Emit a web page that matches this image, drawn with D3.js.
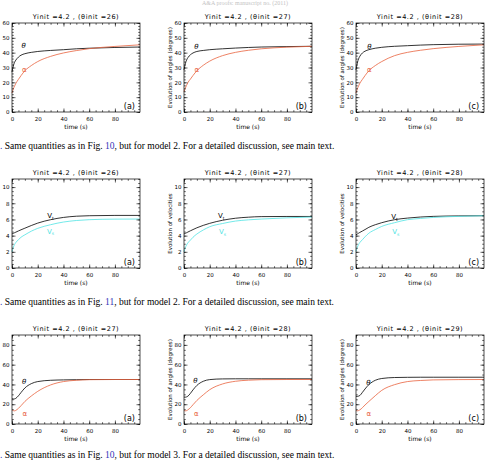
<!DOCTYPE html>
<html>
<head>
<meta charset="utf-8">
<script src="https://cdn.jsdelivr.net/npm/d3@7"></script>
<style>
  body { margin: 0; background: #fff; }
  svg { display: block; }
</style>
</head>
<body>
<div id="chart"></div>
<script>
// ---- data ----
const times = [0, 1, 2, 3, 5, 7, 10, 15, 20, 30, 40, 50, 60, 80, 99.5];
const xTicks = [0, 20, 40, 60, 80];

// row 1 : angles, model 2
const theta2a = [27, 31, 33.5, 35, 37, 38.3, 39.3, 40.2, 40.8, 41.5, 42, 42.6, 43, 43.5, 43.8];
const alpha2a = [12.8, 15.5, 17.5, 19.3, 22, 24.5, 27.8, 31.3, 34, 37.5, 39.8, 41.4, 42.7, 44.2, 45.3];
const theta2b = [28.4, 32.5, 35, 36.6, 38.6, 39.8, 40.8, 41.5, 42, 42.6, 43.1, 43.5, 43.8, 44.1, 44.3];
const alpha2b = [13.6, 16, 18, 19.8, 22.2, 24.6, 27.8, 31.5, 34.3, 38, 40.2, 41.6, 42.6, 43.7, 44.3];
const theta2c = [28.4, 33, 35.8, 37.6, 39.8, 41, 42, 43, 43.6, 44.3, 44.7, 45.1, 45.4, 45.7, 45.8];
const alpha2c = [12.8, 15.5, 17.6, 19.4, 22, 24.5, 27.8, 31.3, 34, 38, 40.2, 41.6, 42.7, 44.2, 45.3];

// row 2 : velocities, model 2
const vBlack2a = [4.2, 4.28, 4.36, 4.43, 4.58, 4.72, 4.92, 5.25, 5.55, 5.97, 6.25, 6.4, 6.46, 6.5, 6.5];
const vCyan2a  = [2.0, 2.55, 2.9, 3.15, 3.5, 3.8, 4.1, 4.55, 4.9, 5.35, 5.68, 5.87, 5.97, 6.04, 6.05];
const vBlack2b = [4.2, 4.28, 4.36, 4.44, 4.6, 4.75, 4.97, 5.27, 5.52, 5.9, 6.15, 6.28, 6.35, 6.37, 6.37];
const vCyan2b  = [2.0, 2.5, 2.85, 3.1, 3.45, 3.8, 4.2, 4.7, 5.1, 5.5, 5.8, 5.95, 6.05, 6.2, 6.3];
const vBlack2c = [4.1, 4.2, 4.3, 4.4, 4.57, 4.75, 5.03, 5.35, 5.6, 5.97, 6.17, 6.3, 6.38, 6.44, 6.46];
const vCyan2c  = [2.05, 2.55, 2.9, 3.15, 3.5, 3.85, 4.3, 4.75, 5.14, 5.6, 5.97, 6.12, 6.25, 6.38, 6.46];

// row 3 : angles, model 3
const theta3a = [25.5, 25.3, 25.4, 26, 28.5, 31.8, 36.4, 40.8, 42.9, 44.2, 44.6, 44.8, 45, 45, 45];
const alpha3a = [14.3, 13.5, 13.3, 13.8, 15.8, 18.5, 22.8, 28.3, 33, 39.5, 42.9, 44.2, 44.8, 45, 45];
const theta3b = [27.2, 27.1, 27.4, 28.1, 31, 34.5, 39, 43.2, 44.9, 45.6, 45.7, 45.7, 45.7, 45.7, 45.7];
const alpha3b = [13.6, 13.3, 13.5, 14.3, 16.5, 19.5, 23.8, 29.5, 34.7, 40.5, 43.2, 44.3, 44.8, 45, 45];
const theta3c = [28, 27.9, 28.2, 28.8, 32, 35.4, 39.8, 44.2, 46, 47, 47.2, 47.3, 47.3, 47.3, 47.3];
const alpha3c = [13.6, 13.3, 13.6, 14.3, 16.5, 19.2, 22.8, 28.6, 34, 39.8, 42.9, 44, 44.6, 44.9, 45];

const thetaInit = [[26, 27, 28], [26, 27, 28], [27, 28, 29]];
const yMax = [60, 11, 90];
const yTicks = [[0, 10, 20, 30, 40, 50, 60], [0, 2, 4, 6, 8, 10], [0, 20, 40, 60, 80]];
const yMinor = [2, 0.5, 5];
const yTitles = ["Evolution of angles (degrees)", "Evolution of velocities", "Evolution of angles (degrees)"];
const panelTags = ["(a)", "(b)", "(c)"];
const captions = [
  ["Same quantities as in Fig. ", "10", ", but for model 2. For a detailed discussion, see main text."],
  ["Same quantities as in Fig. ", "11", ", but for model 2. For a detailed discussion, see main text."],
  ["Same quantities as in Fig. ", "10", ", but for model 3. For a detailed discussion, see main text."]
];

// label positions (time, value) for the curve names
const angleLabels2 = [[[9, 44.7], [9.5, 28]], [[9.7, 44], [10, 28]], [[10.4, 44], [10.4, 28]]];
const velLabels2 = [[[30, 6.4], [30, 4.5]], [[29, 6.4], [30, 4.4]], [[30, 6.3], [31, 4.4]]];
const angleLabels3 = [[[9.4, 42], [9.9, 10]], [[8.8, 43.2], [9.6, 9.9]], [[9.6, 41.5], [9.9, 9.9]]];

const RED = "#e8623e", CYAN = "#4fe3e3";

const rows = [
  { kind: "angle", series: [[theta2a, alpha2a], [theta2b, alpha2b], [theta2c, alpha2c]], labels: angleLabels2 },
  { kind: "vel", series: [[vBlack2a, vCyan2a], [vBlack2b, vCyan2b], [vBlack2c, vCyan2c]], labels: velLabels2 },
  { kind: "angle", series: [[theta3a, alpha3a], [theta3b, alpha3b], [theta3c, alpha3c]], labels: angleLabels3 }
];

// ---- layout ----
const width = 490, height = 460;
const colLeft = [12, 184, 356];
const rowTop = [23, 179, 335];
const W = 128, H = 89;
const captionY = [149, 305, 458];
const axisFont = "DejaVu Sans, sans-serif";

const svg = d3.select("#chart").append("svg")
  .attr("width", width)
  .attr("height", height)
  .attr("viewBox", `0 0 ${width} ${height}`);

// faint running header
svg.append("text")
  .attr("x", 245).attr("y", 5)
  .attr("text-anchor", "middle")
  .style("font-family", "Liberation Serif, serif")
  .style("font-size", "6px")
  .attr("fill", "#c4c4c4")
  .text("A&A proofs: manuscript no. (2011)");

const x = d3.scaleLinear().domain([0, 99.5]).range([0, W]);

rows.forEach((row, r) => {
  const y = d3.scaleLinear().domain([0, yMax[r]]).range([H, 0]);
  const minorY = d3.range(0, yMax[r] + 1e-9, yMinor[r]);
  const minorX = d3.range(0, 99.5, 5);

  for (let c = 0; c < 3; c++) {
    const g = svg.append("g").attr("transform", `translate(${colLeft[c]},${rowTop[r]})`);

    // curves
    const line = d3.line()
      .x((d, i) => x(times[i]))
      .y(d => y(d))
      .curve(d3.curveMonotoneX);
    const colors = row.kind === "angle" ? ["#000", RED] : ["#000", CYAN];
    row.series[c].forEach((vals, k) => {
      g.append("path")
        .datum(vals)
        .attr("d", line)
        .attr("fill", "none")
        .attr("stroke", colors[k])
        .attr("stroke-width", 0.8);
    });

    // curve names
    const lab = row.labels[c];
    if (row.kind === "angle") {
      g.append("text")
        .attr("x", x(lab[0][0])).attr("y", y(lab[0][1]))
        .attr("text-anchor", "middle").attr("dominant-baseline", "central")
        .style("font-family", axisFont).style("font-size", "7px").style("font-style", "italic")
        .attr("fill", "#000").text("θ");
      g.append("text")
        .attr("x", x(lab[1][0])).attr("y", y(lab[1][1]))
        .attr("text-anchor", "middle").attr("dominant-baseline", "central")
        .style("font-family", axisFont).style("font-size", "7px")
        .attr("fill", RED).text("α");
    } else {
      const t1 = g.append("text")
        .attr("x", x(lab[0][0])).attr("y", y(lab[0][1]))
        .attr("text-anchor", "middle").attr("dominant-baseline", "central")
        .style("font-family", axisFont).style("font-size", "7px")
        .attr("fill", "#000");
      t1.append("tspan").text("V");
      t1.append("tspan").attr("font-size", "4.5px").attr("dy", 1.5).text("t");
      const t2 = g.append("text")
        .attr("x", x(lab[1][0])).attr("y", y(lab[1][1]))
        .attr("text-anchor", "middle").attr("dominant-baseline", "central")
        .style("font-family", axisFont).style("font-size", "7px")
        .attr("fill", CYAN);
      t2.append("tspan").text("V");
      t2.append("tspan").attr("font-size", "4.5px").attr("dy", 1.5).text("s");
    }

    // axes (ticks inside, on all four sides)
    const styleAxis = sel => {
      sel.select(".domain").remove();
      sel.selectAll("line").attr("stroke", "#000").attr("stroke-width", 0.6);
      sel.selectAll("text").style("font-family", axisFont).style("font-size", "5.5px").attr("fill", "#000");
    };
    g.append("g").attr("transform", `translate(0,${H})`)
      .call(d3.axisBottom(x).tickValues(xTicks).tickSize(-3.5).tickPadding(5.5).tickFormat(d3.format("d")))
      .call(styleAxis);
    g.append("g").attr("transform", `translate(0,${H})`)
      .call(d3.axisBottom(x).tickValues(minorX).tickSize(-1.8).tickFormat(""))
      .call(styleAxis);
    g.append("g")
      .call(d3.axisTop(x).tickValues(xTicks).tickSize(-3.5).tickFormat(""))
      .call(styleAxis);
    g.append("g")
      .call(d3.axisTop(x).tickValues(minorX).tickSize(-1.8).tickFormat(""))
      .call(styleAxis);
    g.append("g")
      .call(d3.axisLeft(y).tickValues(yTicks[r]).tickSize(-3.5).tickPadding(2.5).tickFormat(d3.format("d")))
      .call(styleAxis);
    g.append("g")
      .call(d3.axisLeft(y).tickValues(minorY).tickSize(-1.8).tickFormat(""))
      .call(styleAxis);
    g.append("g").attr("transform", `translate(${W},0)`)
      .call(d3.axisRight(y).tickValues(yTicks[r]).tickSize(-3.5).tickFormat(""))
      .call(styleAxis);
    g.append("g").attr("transform", `translate(${W},0)`)
      .call(d3.axisRight(y).tickValues(minorY).tickSize(-1.8).tickFormat(""))
      .call(styleAxis);

    // frame
    g.append("rect")
      .attr("width", W).attr("height", H)
      .attr("fill", "none").attr("stroke", "#000").attr("stroke-width", 0.7);

    // title
    g.append("text")
      .attr("x", W / 2).attr("y", -4)
      .attr("text-anchor", "middle")
      .style("font-family", axisFont).style("font-size", "6.5px")
      .style("letter-spacing", "0.55px")
      .attr("fill", "#000")
      .text(`Yinit =4.2 , (θinit =${thetaInit[r][c]})`);

    // x title
    g.append("text")
      .attr("x", W / 2).attr("y", H + 16.5)
      .attr("text-anchor", "middle")
      .style("font-family", axisFont).style("font-size", "6px")
      .attr("fill", "#000").text("time (s)");

    // y title (first column is cut off in the original)
    if (c > 0) {
      g.append("text")
        .attr("transform", `translate(-14,${H / 2}) rotate(-90)`)
        .attr("text-anchor", "middle").attr("dominant-baseline", "central")
        .style("font-family", axisFont).style("font-size", "5.5px")
        .attr("fill", "#000").text(yTitles[r]);
    }

    // panel tag
    g.append("text")
      .attr("x", W - 5).attr("y", H - 3)
      .attr("text-anchor", "end")
      .style("font-family", axisFont).style("font-size", "8px")
      .attr("fill", "#000").text(panelTags[c]);
  }

  // caption
  const cap = svg.append("text")
    .attr("x", 0).attr("y", captionY[r])
    .style("font-family", "Liberation Serif, serif")
    .style("font-size", "9.5px")
    .attr("fill", "#000");
  cap.append("tspan").attr("fill", "#3434b8").text(". ");
  cap.append("tspan").text(captions[r][0]);
  cap.append("tspan").attr("fill", "#3434b8").text(captions[r][1]);
  cap.append("tspan").text(captions[r][2]);
});
</script>
</body>
</html>
